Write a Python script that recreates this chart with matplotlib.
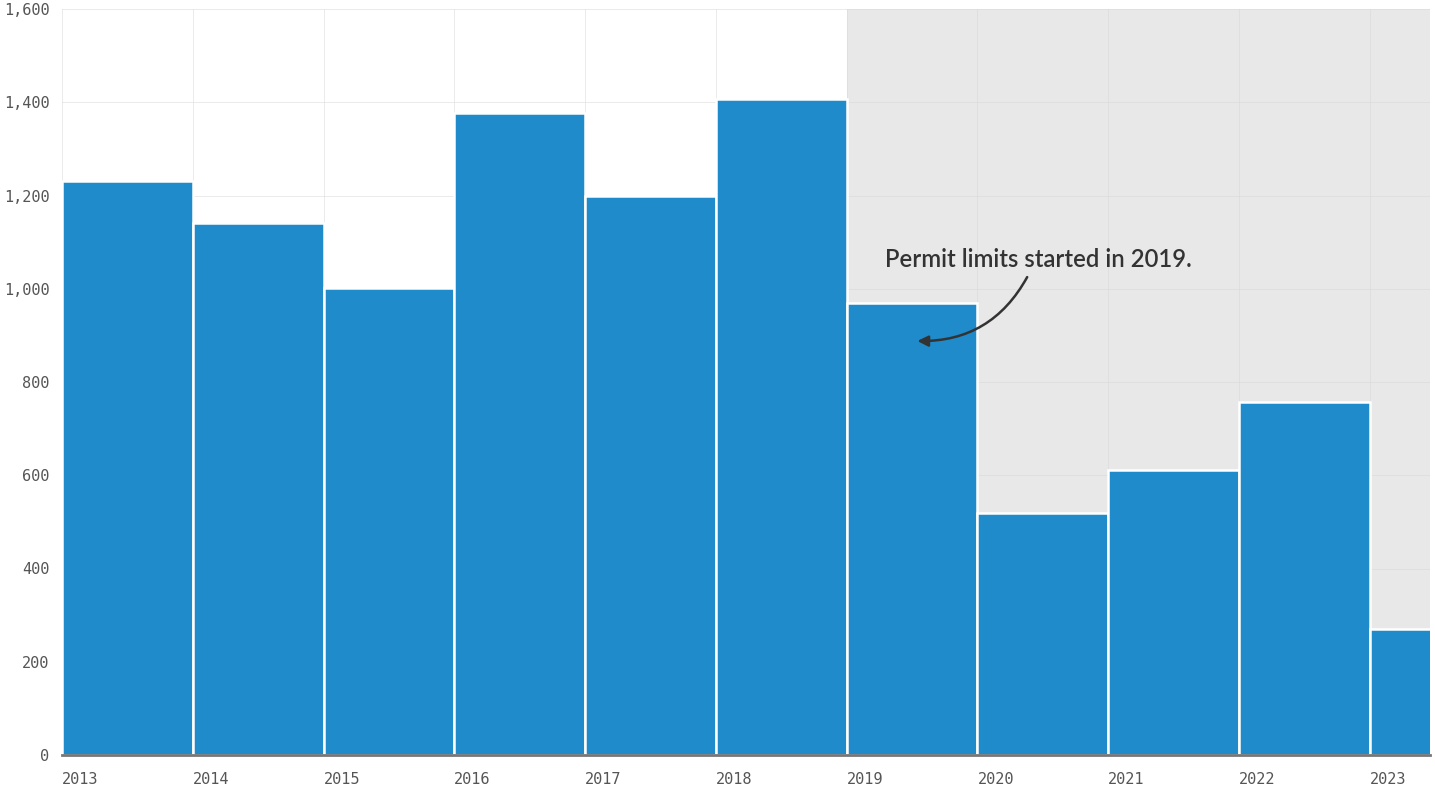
import matplotlib
matplotlib.use("Agg")
import matplotlib.pyplot as plt

# datos
anios = [2013, 2014, 2015, 2016, 2017, 2018, 2019, 2020, 2021, 2022, 2023]
valores = [1231, 1141, 1002, 1377, 1199, 1407, 969, 519, 611, 757, 270]
yticks = [0, 200, 400, 600, 800, 1000, 1200, 1400, 1600]

fig = plt.figure(figsize=(14.35, 7.88), dpi=100)
ax = fig.add_axes([62/1435, 1 - 755/788, (1430-62)/1435, (755-9)/788])

# zona sombreada desde 2019
ax.axvspan(2019, 2024, color="#e8e8e8", zorder=0, lw=0)

ax.bar(anios, valores, width=1, align="edge", color="#1f8bca",
       edgecolor="white", linewidth=1.8, zorder=2)

ax.set_xlim(2013, 2023.46)
ax.set_ylim(0, 1600)
ax.set_xticks(anios)
ax.set_xticklabels([str(a) for a in anios], ha="left")
ax.set_yticks(yticks)
ax.set_yticklabels([f"{v:,}" for v in yticks])
ax.tick_params(length=0, labelsize=11, labelcolor="#555555")
ax.tick_params(axis="x", pad=12)
ax.tick_params(axis="y", pad=9)
for lab in ax.get_xticklabels() + ax.get_yticklabels():
    lab.set_family("DejaVu Sans Mono")

ax.grid(True, color="#d8d8d8", linewidth=0.6, alpha=0.6, zorder=1)
ax.set_axisbelow(True)
for s in ["top", "right", "left"]:
    ax.spines[s].set_visible(False)
ax.spines["bottom"].set_color("#777777")
ax.spines["bottom"].set_linewidth(2)
ax.spines["bottom"].set_zorder(3)

# texto de la anotacion
ax.text(2019.29, 1062, "Permit limits started in 2019.", fontsize=17.2,
        family="Lato", weight="semibold", color="#333333", va="center", ha="left", zorder=4)
# flecha curva
ax.annotate("", xy=(2019.54, 888), xytext=(2020.38, 1025),
            arrowprops=dict(arrowstyle="-|>", color="#333333", lw=1.8,
                            connectionstyle="arc3,rad=-0.3",
                            mutation_scale=16, shrinkA=0, shrinkB=0),
            zorder=4)

fig.savefig("out.png", dpi=100)
